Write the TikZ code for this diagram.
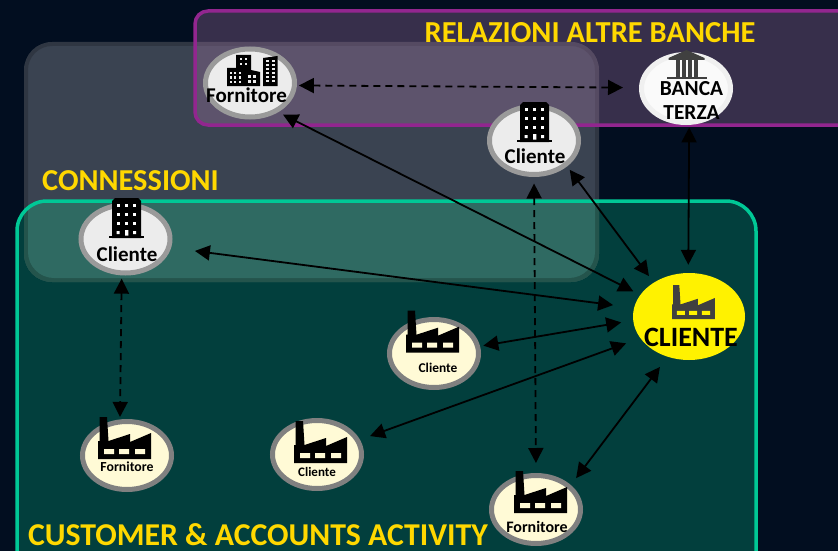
\documentclass[tikz,border=0pt]{standalone}
\usepackage{fontspec}
\setmainfont{Carlito}
\usetikzlibrary{shapes.geometric,arrows.meta}
\definecolor{bgc}{RGB}{2,14,32}
\definecolor{greenf}{RGB}{2,63,61}
\definecolor{greenb}{RGB}{0,200,150}
\definecolor{overlapf}{RGB}{47,106,98}
\definecolor{overlapb}{RGB}{36,84,76}
\definecolor{purb}{RGB}{146,38,143}
\definecolor{purf}{RGB}{167,117,166}
\definecolor{titlec}{RGB}{255,216,0}
\definecolor{creamf}{RGB}{255,250,214}
\definecolor{silverf}{RGB}{236,236,236}
\tikzset{
  grouptitle/.style={text=titlec,inner sep=0pt},
  ell/.style={ellipse,inner sep=0pt,line width=5pt,minimum width=89pt,minimum height=68pt},
  silverell/.style={ell,draw={rgb,255:red,154;green,154;blue,154},fill=silverf},
  creamell/.style={ell,draw={rgb,255:red,128;green,128;blue,128},fill=creamf},
  link/.style={line width=1.8pt,black,{Triangle[length=15pt,width=15pt]}-{Triangle[length=15pt,width=15pt]}},
  dashlink/.style={link,dash pattern=on 7pt off 5pt},
  lab/.style={inner sep=0pt,text=black},
}
\newcommand\myfactory[5]{% x y scale body window
\begin{scope}[shift={(#1,#2)},scale=#3]
\fill[#4] (0,42)--(0,24)--(1.5,24)--(1.5,0)--(9,0)--(10.5,24)--(32,17)--(32,25)--(53,16)--(53,42)--cycle;
\fill[#5] (6,32) rectangle (16,37) (21,32) rectangle (31,37) (37,32) rectangle (47,37);
\end{scope}}
\newcommand\mytower[2]{%
\begin{scope}[shift={(#1,#2)}]
\fill[black] (3,40)--(3,3)--(6,0)--(29,0)--(32,3)--(32,40)--cycle;
\fill[black] (0,37.5) rectangle (35,40);
\foreach \wy in {6,15,24}{\foreach \wx in {7.5,16,24}{\fill[white] (\wx,\wy) rectangle ++(3.2,3);}}
\fill[white] (7.5,33) rectangle ++(3.2,3) (24,33) rectangle ++(3.2,3) (16,32) rectangle ++(3.4,5.5);
\end{scope}}
\newcommand\mycity[2]{%
\begin{scope}[shift={(#1,#2)}]
\fill[black] (0,31)--(0,13)--(9,13)--(9,0)--(24,0)--(24,15)--(33,17)--(33,31)--cycle;
\fill[black] (36,31)--(36,3)--(50.5,1)--(50.5,31)--cycle;
\foreach \wx in {2.5,7,11.5}{\foreach \wy in {17,21.5,26}{\fill[silverf] (\wx,\wy) rectangle ++(2.4,2.4);}}
\foreach \wx in {21,26}{\foreach \wy in {20,25}{\fill[silverf] (\wx,\wy) rectangle ++(2.6,3);}}
\foreach \wx in {13,18}{\foreach \wy in {3,8}{\fill[silverf] (\wx,\wy) rectangle ++(2.4,2.4);}}
\foreach \wx in {39,44.5}{\foreach \wy in {5,9,13,17,21,25}{\fill[silverf] (\wx,\wy) rectangle ++(3,1.8);}}
\end{scope}}
\newcommand\mybank[2]{%
\begin{scope}[shift={(#1,#2)},black!75]
\fill (19.5,0)--(37.5,8)--(37.5,10)--(1.5,10)--(1.5,8)--cycle;
\foreach \cx in {9,15,21,27}{\fill (\cx,10) rectangle ++(3.6,17);}
\fill (0,27) rectangle (40,29.5);
\end{scope}}
\begin{document}
\begin{tikzpicture}[x=1pt,y=-1pt]
\useasboundingbox (0,0) rectangle (838,551);
\clip (0,0) rectangle (838,551);
\fill[bgc] (0,0) rectangle (838,551);
% group boxes
\fill[greenf,rounded corners=30pt] (17,201) rectangle (756,590);
\fill[white,fill opacity=.225,rounded corners=28pt] (24,42) rectangle (599,282);
\draw[line width=4pt,black,draw opacity=.18,rounded corners=26pt] (26,44) rectangle (597,280);
\begin{scope}
\clip[rounded corners=30pt] (17,201) rectangle (756,590);
\fill[overlapb,rounded corners=28pt] (24,42) rectangle (599,282);
\fill[overlapf,rounded corners=26pt] (28,46) rectangle (595,278);
\end{scope}
\draw[line width=3.5pt,draw=greenb,rounded corners=30pt] (17,201) rectangle (756,590);
\draw[line width=3.5pt,draw=purb,fill=purf,fill opacity=.32,rounded corners=13pt] (195,11) rectangle (870,125);
% titles
\node[grouptitle,font=\fontsize{30.5}{30.5}\selectfont\bfseries] (t1) at (590,33) {RELAZIONI ALTRE BANCHE};
\node[grouptitle,font=\fontsize{30.4}{30.4}\selectfont\bfseries] (t2) at (130.5,181) {CONNESSIONI};
\node[grouptitle,font=\fontsize{31.8}{31.8}\selectfont\bfseries] (t3) at (258,535) {CUSTOMER \& ACCOUNTS ACTIVITY};
% nodes
\node[silverell] (forn) at (250,83) {};
\node[ell,draw={rgb,255:red,240;green,240;blue,240},fill={rgb,255:red,250;green,250;blue,250}] (banca) at (686,88.5) {};
\node[silverell] (cltop) at (534,140.5) {};
\node[silverell] (clleft) at (125.5,239) {};
\node[ellipse,inner sep=0pt,fill=yellow,minimum width=112pt,minimum height=87pt] (cli) at (689,316.5) {};
\node[creamell] (clmid) at (434,353.5) {};
\node[creamell] (fornbot) at (536,509.5) {};
\node[creamell] (fornleft) at (127,455.5) {};
\node[creamell] (clbot) at (317,454.5) {};
% icons
\mycity{227}{55}
\mybank{667}{50}
\mytower{517}{102}
\mytower{109}{198}
\myfactory{672}{285}{.81}{black!75}{yellow}
\myfactory{406}{310.7}{1}{black}{creamf}
\myfactory{514}{471}{1}{black}{creamf}
\myfactory{98}{417}{1}{black}{creamf}
\myfactory{294}{421}{1}{black}{creamf}
% labels
\node[lab,font=\fontsize{21}{21}\selectfont\bfseries] (lforn) at (246.5,95) {Fornitore};
\node[lab,font=\fontsize{21.4}{21.4}\selectfont\bfseries] (lb1) at (691.5,88.5) {BANCA};
\node[lab,font=\fontsize{21.4}{21.4}\selectfont\bfseries] (lb2) at (691.5,113) {TERZA};
\node[lab,font=\fontsize{21}{21}\selectfont\bfseries] (lcltop) at (535,156.5) {Cliente};
\node[lab,font=\fontsize{21}{21}\selectfont\bfseries] (lclleft) at (127,254) {Cliente};
\node[lab,font=\fontsize{28}{28}\selectfont\bfseries] (lcli) at (691,337) {CLIENTE};
\node[lab,font=\fontsize{13.4}{13.4}\selectfont\bfseries] (lclmid) at (438,368) {Cliente};
\node[lab,font=\fontsize{16}{16}\selectfont\bfseries] (lfornbot) at (537,527) {Fornitore};
\node[lab,font=\fontsize{13.8}{13.8}\selectfont\bfseries] (lfornleft) at (127,467) {Fornitore};
\node[lab,font=\fontsize{13}{13}\selectfont\bfseries] (lclbot) at (317,472) {Cliente};
% connectors
\draw[link,shorten <=5.4pt,shorten >=7.8pt] (forn.-46) -- (cli.156.4);
\draw[dashlink,shorten <=2pt,shorten >=16pt] (forn.-3.5) -- (banca.179);
\draw[link,shorten <=4.3pt,shorten >=8pt] (cltop.-38.9) -- (cli.136);
\draw[link,shorten <=2.5pt,shorten >=8pt] (banca.-85.6) -- (cli.91);
\draw[link,shorten <=24pt,shorten >=21pt] (clleft.-11.4) -- (cli.171.4);
\draw[dashlink,shorten <=6.5pt,shorten >=10pt] (cltop.-90) -- (fornbot.90);
\draw[dashlink,shorten <=3.3pt,shorten >=2.5pt] (clleft.-96.6) -- (fornleft.101);
\draw[link,shorten <=3.3pt,shorten >=12pt] (clmid.9.8) -- (cli.184.6);
\draw[link,shorten <=10.7pt,shorten >=15pt] (clbot.19.2) -- (cli.204.7);
\draw[link,shorten <=8.7pt,shorten >=12.6pt] (fornbot.35) -- (cli.242.3);
\end{tikzpicture}
\end{document}
